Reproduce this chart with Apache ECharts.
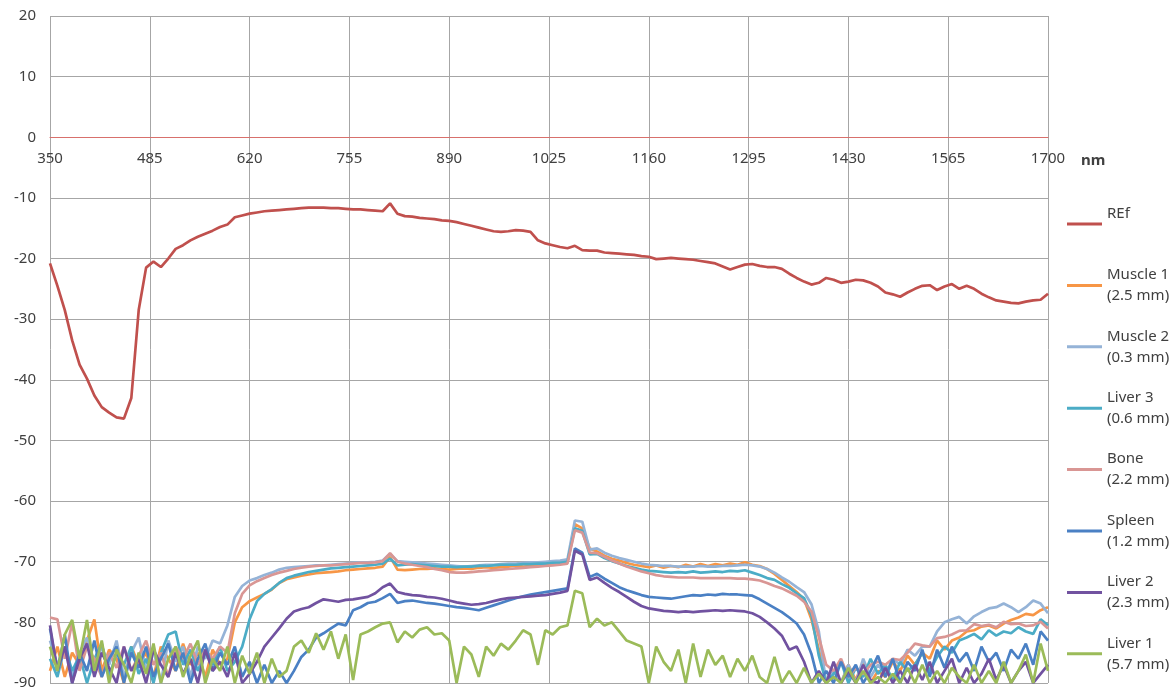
<!DOCTYPE html>
<html><head><meta charset="utf-8">
<script src="https://cdn.jsdelivr.net/npm/echarts@6/dist/echarts.min.js"></script>
<style>html,body{margin:0;padding:0;background:#fff}#c{width:1176px;height:693px}</style>
</head><body><div id="c"></div>
<script>
// Sampling grid: 350 nm to 1700 nm every 10 nm (136 samples)
const sampleStart = 350, sampleStep = 10, sampleCount = 136;
const xTickMin = 350, xTickMax = 1700, xTickStep = 135;
const yTickMin = -90, yTickMax = 20, yTickStep = 10;

const seriesNames = ['REf', 'Muscle 1\n(2.5 mm)', 'Muscle 2\n(0.3 mm)', 'Liver 3\n(0.6 mm)', 'Bone\n(2.2 mm)', 'Spleen\n(1.2 mm)', 'Liver 2\n(2.3 mm)', 'Liver 1\n(5.7 mm)'];
const seriesColors = ['#C0504D', '#F79646', '#95B3D7', '#4BACC6', '#D99694', '#4A80C4', '#7152A0', '#9BBB59'];

const refValues = [
 -20.8,-24.5,-28.5,-33.5,-37.5,-39.8,-42.6,-44.5,-45.4,-46.2,
 -46.4,-43.0,-28.5,-21.5,-20.5,-21.4,-20.0,-18.4,-17.8,-17.0,
 -16.4,-15.9,-15.4,-14.8,-14.4,-13.2,-12.9,-12.6,-12.4,-12.2,
 -12.1,-12.0,-11.9,-11.8,-11.7,-11.6,-11.6,-11.6,-11.7,-11.7,
 -11.8,-11.9,-11.9,-12.0,-12.1,-12.2,-10.9,-12.6,-13.0,-13.1,
 -13.3,-13.4,-13.5,-13.7,-13.8,-14.0,-14.3,-14.6,-14.9,-15.2,
 -15.5,-15.6,-15.5,-15.3,-15.4,-15.6,-17.0,-17.5,-17.8,-18.1,
 -18.3,-17.9,-18.6,-18.7,-18.7,-19.0,-19.1,-19.2,-19.3,-19.4,
 -19.6,-19.7,-20.1,-20.0,-19.9,-20.0,-20.1,-20.2,-20.4,-20.6,
 -20.8,-21.3,-21.8,-21.4,-21.0,-20.9,-21.2,-21.4,-21.4,-21.7,
 -22.5,-23.2,-23.8,-24.3,-24.0,-23.2,-23.5,-24.0,-23.8,-23.5,
 -23.6,-24.0,-24.6,-25.6,-25.9,-26.3,-25.6,-25.0,-24.5,-24.4,
 -25.2,-24.6,-24.2,-25.0,-24.5,-25.0,-25.8,-26.4,-26.9,-27.1,
 -27.3,-27.4,-27.1,-26.9,-26.8,-25.8
];
const muscle1Values = [
 -88,-84,-89,-85,-87,-83,-79.5,-88,-84.5,-86,
 -90,-84,-87,-85,-89,-84,-86,-88,-83.5,-87,
 -85,-89,-84.5,-87,-86,-80,-77.5,-76.5,-75.9,-75.3,
 -74.6,-73.5,-72.9,-72.6,-72.3,-72.1,-71.9,-71.8,-71.7,-71.6,
 -71.4,-71.3,-71.2,-71.1,-71.0,-70.8,-69.2,-71.3,-71.4,-71.3,
 -71.2,-71.2,-71.1,-71.2,-71.3,-71.2,-71.1,-71.2,-71.0,-70.9,
 -71.0,-70.9,-70.8,-70.6,-70.8,-70.7,-70.6,-70.5,-70.5,-70.3,
 -70.1,-63.8,-64.5,-67.8,-68.3,-69.0,-69.5,-69.8,-70.2,-70.5,
 -70.7,-70.9,-70.6,-71.0,-70.7,-70.9,-70.5,-70.8,-70.4,-70.7,
 -70.4,-70.6,-70.3,-70.5,-70.1,-70.5,-70.7,-71.2,-72.0,-73.0,
 -74.0,-75.0,-76.2,-79.5,-84.5,-90,-88,-90,-87,-89.5,
 -86.5,-90,-88,-89,-86.5,-88,-85.5,-87,-85,-86,
 -83,-84.5,-83,-82.5,-81.5,-81.3,-80.7,-80.5,-81,-80.2,
 -79.6,-79.2,-78.6,-78.8,-78,-77.5
];
const muscle2Values = [
 -83,-87,-84,-89,-85,-82.5,-88,-84,-87,-83,
 -89,-85,-82.5,-88,-84.5,-90,-83,-86.5,-84,-89,
 -84,-86,-83,-83.5,-80.5,-75.8,-74.0,-73.1,-72.7,-72.2,
 -71.8,-71.3,-71.0,-70.9,-70.8,-70.7,-70.6,-70.6,-70.5,-70.4,
 -70.3,-70.2,-70.1,-70.1,-70.0,-69.8,-68.7,-69.9,-70.0,-70.1,
 -70.2,-70.3,-70.4,-70.5,-70.6,-70.7,-70.8,-70.7,-70.6,-70.5,
 -70.5,-70.4,-70.3,-70.3,-70.2,-70.1,-70.1,-70.0,-69.9,-69.8,
 -69.6,-63.2,-63.4,-68.0,-67.8,-68.5,-69.0,-69.4,-69.7,-70.0,
 -70.3,-70.5,-70.6,-70.7,-70.7,-70.8,-70.8,-70.8,-70.7,-70.8,
 -70.8,-70.7,-70.7,-70.6,-70.5,-70.6,-70.8,-71.2,-71.8,-72.6,
 -73.3,-74.2,-75.0,-77.0,-81.5,-90,-88,-90,-87,-90,
 -86,-89,-87,-88.5,-86,-87,-84.5,-85.5,-84,-84,
 -81.5,-80,-79.5,-79.1,-80.2,-79,-78.3,-77.7,-77.5,-76.9,
 -77.5,-78.3,-77.5,-76.4,-76.9,-78.5
];
const liver3Values = [
 -86,-89,-84,-88,-85.5,-90,-86,-83.5,-89,-85,
 -87,-84,-88.5,-86,-90,-85,-82,-81.5,-87,-84.5,
 -88,-85,-87,-84,-88,-86.5,-84,-79.5,-76.5,-75.3,
 -74.5,-73.5,-72.7,-72.3,-72.0,-71.7,-71.5,-71.3,-71.1,-71.0,
 -70.9,-70.8,-70.7,-70.6,-70.5,-70.3,-69.5,-70.6,-70.5,-70.4,
 -70.5,-70.6,-70.7,-70.8,-70.8,-70.9,-70.8,-70.8,-70.7,-70.7,
 -70.6,-70.5,-70.5,-70.5,-70.4,-70.4,-70.3,-70.3,-70.2,-70.2,
 -70.0,-64.5,-64.9,-68.8,-68.7,-69.4,-69.9,-70.3,-70.7,-71.0,
 -71.3,-71.5,-71.6,-71.7,-71.8,-71.7,-71.8,-71.6,-71.8,-71.7,
 -71.6,-71.7,-71.5,-71.6,-71.4,-71.8,-72.2,-72.7,-73.0,-73.7,
 -74.3,-75.2,-76.0,-78.8,-85.5,-90,-88.5,-86.5,-90,-87.5,
 -89,-86,-88.5,-87,-89.5,-86.5,-88,-87,-85,-88,
 -85.7,-84,-85,-83,-82.5,-81.9,-82.8,-81.3,-82.2,-81.5,
 -81.8,-80.8,-81.5,-81.9,-79.5,-80.5
];
const boneValues = [
 -79.2,-79.5,-86,-80,-88,-84,-86,-89,-85,-87.5,
 -84,-88,-85.5,-83,-87,-85,-89,-84,-86,-83.5,
 -87,-84.5,-86,-84,-85,-78.5,-75.3,-73.9,-73.2,-72.7,
 -72.2,-71.8,-71.5,-71.2,-71.0,-70.8,-70.7,-70.6,-70.6,-70.5,
 -70.4,-70.3,-70.2,-70.2,-70.1,-69.9,-68.6,-70.0,-70.3,-70.5,
 -70.7,-70.9,-71.2,-71.4,-71.7,-71.8,-71.8,-71.7,-71.6,-71.5,
 -71.4,-71.3,-71.2,-71.1,-71.0,-70.9,-70.8,-70.7,-70.6,-70.5,
 -70.3,-64.8,-65.2,-68.5,-68.6,-69.2,-69.8,-70.3,-70.8,-71.2,
 -71.6,-71.9,-72.2,-72.4,-72.5,-72.6,-72.6,-72.6,-72.7,-72.7,
 -72.7,-72.7,-72.7,-72.8,-72.8,-72.9,-73.1,-73.5,-74.0,-74.4,
 -75.0,-75.6,-76.6,-78.2,-82.4,-87,-88,-86,-89,-87.5,
 -88.5,-87,-86.5,-87,-86,-86.2,-85,-83.5,-83.8,-84,
 -82.6,-82.4,-82,-81.4,-81.3,-80.3,-80.6,-80.4,-80.8,-79.9,
 -80.3,-80.2,-80.6,-80.5,-79.9,-81
];
const spleenValues = [
 -81,-88,-82,-90,-85,-88,-83,-89,-86,-84,
 -90,-85,-87.5,-84,-89,-86,-83.5,-88,-85,-90,
 -86,-83.5,-88,-85,-87,-84,-89,-86.5,-90,-87,
 -90,-88,-90,-88,-85.7,-84.5,-82.5,-81.8,-81.0,-80.2,
 -80.5,-78.0,-77.5,-76.8,-76.6,-76.0,-75.3,-76.8,-76.5,-76.4,
 -76.6,-76.8,-76.9,-77.1,-77.3,-77.5,-77.6,-77.8,-78.0,-77.6,
 -77.2,-76.8,-76.4,-76.0,-75.7,-75.4,-75.2,-75.0,-74.8,-74.6,
 -74.4,-67.8,-68.5,-72.5,-72.0,-72.8,-73.5,-74.2,-74.7,-75.1,
 -75.5,-75.8,-75.9,-76.0,-76.1,-75.9,-75.7,-75.5,-75.6,-75.4,
 -75.5,-75.3,-75.4,-75.4,-75.5,-75.6,-76.2,-76.9,-77.6,-78.3,
 -79.2,-80.2,-82.0,-85.2,-90,-88,-90,-86.5,-89,-87,
 -90,-88,-85.5,-89,-86,-90,-86.5,-88,-84.5,-89,
 -84.5,-87.5,-84,-86.5,-85,-88,-84,-86.5,-85,-88,
 -84.5,-86,-83.5,-87,-81.5,-83
];
const liver2Values = [
 -80.5,-88,-84,-90,-86,-83.5,-89,-85,-87.5,-90,
 -84,-88,-86,-90,-84.5,-87,-89,-85,-88.5,-86,
 -90,-84.5,-88,-86.5,-89,-85,-90,-88.5,-86.5,-84,
 -82.5,-81.0,-79.4,-78.2,-77.8,-77.5,-76.8,-76.2,-76.4,-76.6,
 -76.3,-76.2,-76.0,-75.8,-75.2,-74.2,-73.6,-75.0,-75.3,-75.5,
 -75.6,-75.8,-75.9,-76.1,-76.4,-76.7,-76.9,-77.1,-77.0,-76.8,
 -76.5,-76.2,-76.0,-75.9,-75.8,-75.7,-75.6,-75.5,-75.3,-75.1,
 -74.8,-68.2,-68.8,-73.0,-72.6,-73.5,-74.3,-75.0,-75.8,-76.6,
 -77.3,-77.7,-77.9,-78.1,-78.2,-78.3,-78.2,-78.3,-78.2,-78.1,
 -78.0,-78.1,-78.0,-78.1,-78.2,-78.5,-79.1,-80.0,-81.0,-82.2,
 -84.5,-84.0,-86.5,-90,-88,-90,-86.5,-90,-88,-90,
 -87,-89.5,-90,-87.5,-90,-88,-90,-87,-89.5,-86.5,
 -90,-88,-86,-90,-87.5,-90,-88.5,-86,-89.5,-87,
 -90,-88,-86.5,-90,-88.5,-87
];
const liver1Values = [
 -84,-88,-82,-79.6,-86,-79.6,-88,-83,-90,-84.5,
 -87,-90,-85,-88.5,-83.5,-90,-86,-84,-89,-85.5,
 -83,-90,-86,-88,-84,-90,-85.5,-88.5,-85,-90,
 -86,-89,-88,-84,-83,-85,-81.8,-84.5,-81.5,-86,
 -82,-89.5,-82,-81.5,-80.8,-80.2,-80.0,-83.3,-81.5,-82.5,
 -81.2,-80.8,-82,-81.8,-83,-90,-84,-85.3,-89,-84,
 -85.5,-83.5,-84.5,-83,-81.3,-82,-87,-81.3,-82,-80.8,
 -80.5,-74.8,-75.2,-80.8,-79.4,-80.5,-80.0,-81.5,-83,-83.5,
 -84,-90,-84,-86.5,-88,-84.5,-90,-83.5,-89,-84.5,
 -87,-85.5,-89,-86,-88,-85.5,-89,-90,-85.7,-90,
 -88,-90,-87.5,-90,-88.5,-90,-89,-90,-87.5,-90,
 -88,-90,-89,-90,-88.5,-90,-87.5,-90,-87,-90,
 -88,-90,-87.5,-89,-90,-87,-90,-88,-90,-86.5,
 -90,-88,-85.3,-90,-83.5,-88
];

const allValues = [refValues, muscle1Values, muscle2Values, liver3Values, boneValues, spleenValues, liver2Values, liver1Values];
allValues.forEach((arr, k) => { if (arr.length !== sampleCount) throw new Error('Series ' + k + ' has ' + arr.length + ' values'); });

const FONT = 'Noto Sans';
const gridTop = 16, gridBottom = 10, chartHeight = 693;
const plotHeight = chartHeight - gridTop - gridBottom;
// shift the x axis (line + labels) up so it sits on y = 0
const zeroOffset = -plotHeight * (0 - yTickMin) / (yTickMax - yTickMin);

function toPairs(vals) { return vals.map((v, i) => [sampleStart + i * sampleStep, v]); }

const chart = echarts.init(document.getElementById('c'), null, {renderer: 'canvas'});
chart.setOption({
  animation: false,
  backgroundColor: '#ffffff',
  grid: {left: 50, right: 128, top: gridTop, bottom: gridBottom, containLabel: false, outerBoundsMode: 'none'},
  xAxis: {
    type: 'value', min: xTickMin, max: xTickMax, interval: xTickStep,
    position: 'bottom', offset: zeroOffset,
    name: 'nm', nameLocation: 'end', nameGap: 33,
    nameTextStyle: {fontFamily: FONT, fontWeight: 'bold', fontSize: 15, color: '#404040', verticalAlign: 'top', align: 'left', padding: [16, 0, 0, 0]},
    axisLine: {show: true, onZero: false, lineStyle: {color: '#D8706C', width: 1}},
    axisTick: {show: false},
    axisLabel: {fontFamily: FONT, fontSize: 15, color: '#404040', margin: 14, formatter: v => String(v)},
    splitLine: {show: true, lineStyle: {color: '#A6A6A6', width: 1}}
  },
  yAxis: {
    type: 'value', min: yTickMin, max: yTickMax, interval: yTickStep,
    axisLine: {show: false}, axisTick: {show: false},
    axisLabel: {fontFamily: FONT, fontSize: 15, color: '#404040', margin: 14, formatter: v => String(v)},
    splitLine: {show: true, lineStyle: {color: '#A6A6A6', width: 1}}
  },
  legend: {
    orient: 'vertical', left: 1067, top: 192.5, padding: 0, itemGap: -1.6,
    itemWidth: 35, itemHeight: 3, icon: 'rect', selectedMode: false,
    formatter: name => (name.indexOf('\n') < 0 ? name + '\n ' : name),
    textStyle: {fontFamily: FONT, fontSize: 15, color: '#404040', lineHeight: 21, backgroundColor: 'rgba(255,255,255,0)', padding: [21, 0, 0, 0]},
    data: seriesNames.slice()
  },
  series: allValues.map((vals, k) => ({
    name: seriesNames[k], type: 'line', data: toPairs(vals),
    symbol: 'none', showSymbol: false, clip: true,
    color: seriesColors[k],
    lineStyle: {color: seriesColors[k], width: 2.7},
    emphasis: {disabled: true}
  }))
});
</script></body></html>
